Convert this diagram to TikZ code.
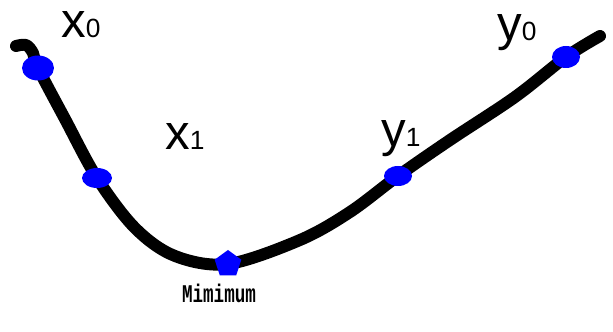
\documentclass[tikz,border=0pt]{standalone}
\usepackage{fontspec}
\setmainfont{Liberation Sans}
\setmonofont{Liberation Mono}
\usepackage{tikz}
\usetikzlibrary{shapes.geometric}
\definecolor{dotblue}{RGB}{0,0,255}

\begin{document}
\begin{tikzpicture}[
    curve/.style={line width=6.8pt,line cap=round,line join=round},
    dot/.style={ellipse,fill=dotblue,inner sep=0pt},
    lbl/.style={font=\fontsize{28}{28}\selectfont,inner sep=0pt}]
  \useasboundingbox (0,0) rectangle (12.26,6.64);
  % points on the curve
  \coordinate (start) at (0.32,5.72);
  \coordinate (p0) at (0.76,5.28);
  \coordinate (p1) at (1.94,3.08);
  \coordinate (pm) at (4.56,1.36);
  \coordinate (q1) at (7.96,3.12);
  \coordinate (q0) at (11.32,5.50);
  \coordinate (stop) at (12.00,5.92);
  \draw[curve] plot[smooth,tension=0.55] coordinates {(start) (0.52,5.74) (0.66,5.58) (p0) (1.30,4.26) (p1)
    (2.70,2.08) (3.50,1.52) (pm) (6.00,1.84) (7.00,2.40) (q1) (9.00,3.84) (10.30,4.70) (q0) (stop)};
  % dots
  \node[dot,minimum width=0.64cm,minimum height=0.50cm] (x0) at (p0) {};
  \node[dot,minimum width=0.60cm,minimum height=0.40cm] (x1) at (p1) {};
  \node[regular polygon,regular polygon sides=5,fill=dotblue,inner sep=0pt,minimum size=0.56cm] (min) at (pm) {};
  \node[dot,minimum width=0.56cm,minimum height=0.40cm] (y1) at (q1) {};
  \node[dot,minimum width=0.56cm,minimum height=0.44cm] (y0) at (q0) {};
  % labels
  \node[lbl] (lx0) at (1.62,6.14) {x{\fontsize{15}{15}\selectfont 0}};
  \node[lbl] (lx1) at (3.70,3.90) {x{\fontsize{15}{15}\selectfont 1}};
  \node[lbl,anchor=base] (ly1) at (8.02,3.70) {y{\fontsize{15}{15}\selectfont 1}};
  \node[lbl,anchor=base] (ly0) at (10.34,5.82) {y{\fontsize{15}{15}\selectfont 0}};
  \node[font=\ttfamily\bfseries\fontsize{10}{10}\selectfont] (mlbl) at (4.38,0.78) {\scalebox{1}[1.45]{Mimimum}};
\end{tikzpicture}
\end{document}
